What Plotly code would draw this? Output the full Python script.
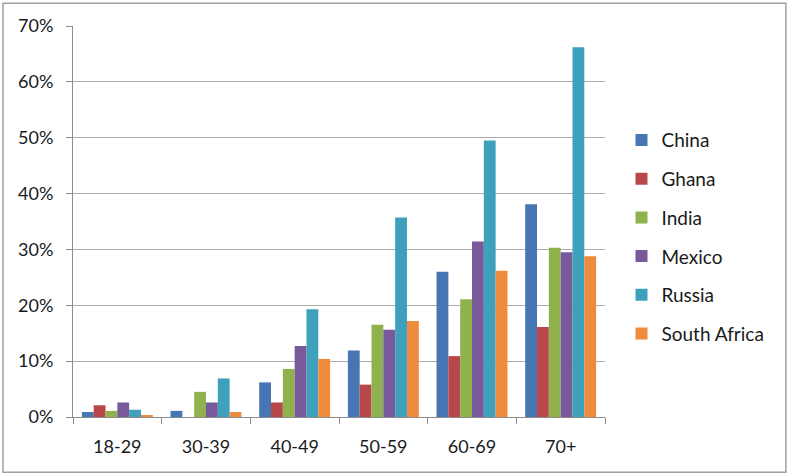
import plotly.graph_objects as go

categories = ["18-29", "30-39", "40-49", "50-59", "60-69", "70+"]
china = [0.9, 1.1, 6.2, 11.9, 26.0, 38.1]
ghana = [2.1, 0.0, 2.6, 5.8, 10.9, 16.1]
india = [1.1, 4.5, 8.6, 16.5, 21.1, 30.3]
mexico = [2.6, 2.6, 12.7, 15.6, 31.4, 29.5]
russia = [1.3, 6.9, 19.3, 35.7, 49.5, 66.2]
south_africa = [0.2, 0.9, 10.4, 17.2, 26.2, 28.8]

series = [
    ("China", china, "#4676B4"),
    ("Ghana", ghana, "#B8474A"),
    ("India", india, "#8FB24E"),
    ("Mexico", mexico, "#77599C"),
    ("Russia", russia, "#3FA0BC"),
    ("South Africa", south_africa, "#EE8B3C"),
]

yticks = [0, 10, 20, 30, 40, 50, 60, 70]
ytick_labels = [f"{v}%" for v in yticks]

FONT = "Lato, Open Sans, sans-serif"

fig = go.Figure()
for name, vals, color in series:
    fig.add_trace(go.Bar(
        name=name, x=categories, y=vals,
        marker=dict(color=color, line=dict(width=0)),
        legendgroup=name,
    ))

fig.update_layout(
    width=788, height=474,
    margin=dict(l=73, r=183, t=26, b=57, autoexpand=False),
    paper_bgcolor="white", plot_bgcolor="white",
    barmode="group", bargap=0.2, bargroupgap=0,
    font=dict(family=FONT, size=18, color="#1a1a1a"),
    showlegend=True,
    legend=dict(
        x=1.031, y=0.46, xanchor="left", yanchor="middle",
        traceorder="grouped", tracegroupgap=11,
        font=dict(family=FONT, size=19, color="#1a1a1a"),
        itemwidth=30, bgcolor="rgba(0,0,0,0)",
    ),
    xaxis=dict(
        showline=True, linecolor="#8C8C8C", linewidth=1,
        ticks="outside", tickson="boundaries", ticklen=6, tickcolor="#8C8C8C",
        showgrid=False, tickfont=dict(size=18),
        ticklabelstandoff=13,
    ),
    yaxis=dict(
        range=[0, 70], tickvals=yticks, ticktext=ytick_labels,
        showline=True, linecolor="#8C8C8C", linewidth=1,
        ticks="outside", ticklen=6, tickcolor="#8C8C8C",
        showgrid=True, gridcolor="#ABABAB", gridwidth=1,
        zeroline=False, tickfont=dict(size=18),
        ticklabelstandoff=9,
    ),
    shapes=[dict(
        type="rect", xref="paper", yref="paper",
        x0=-0.1316, x1=1.340, y0=-0.1414, y1=1.058,
        line=dict(color="#A0A0A0", width=1.5), fillcolor="rgba(0,0,0,0)",
        layer="below",
    )],
)

fig.write_html(
    "out.html",
    config={"displayModeBar": False},
    post_script="document.body.style.margin='0';document.body.style.overflow='hidden';",
)
